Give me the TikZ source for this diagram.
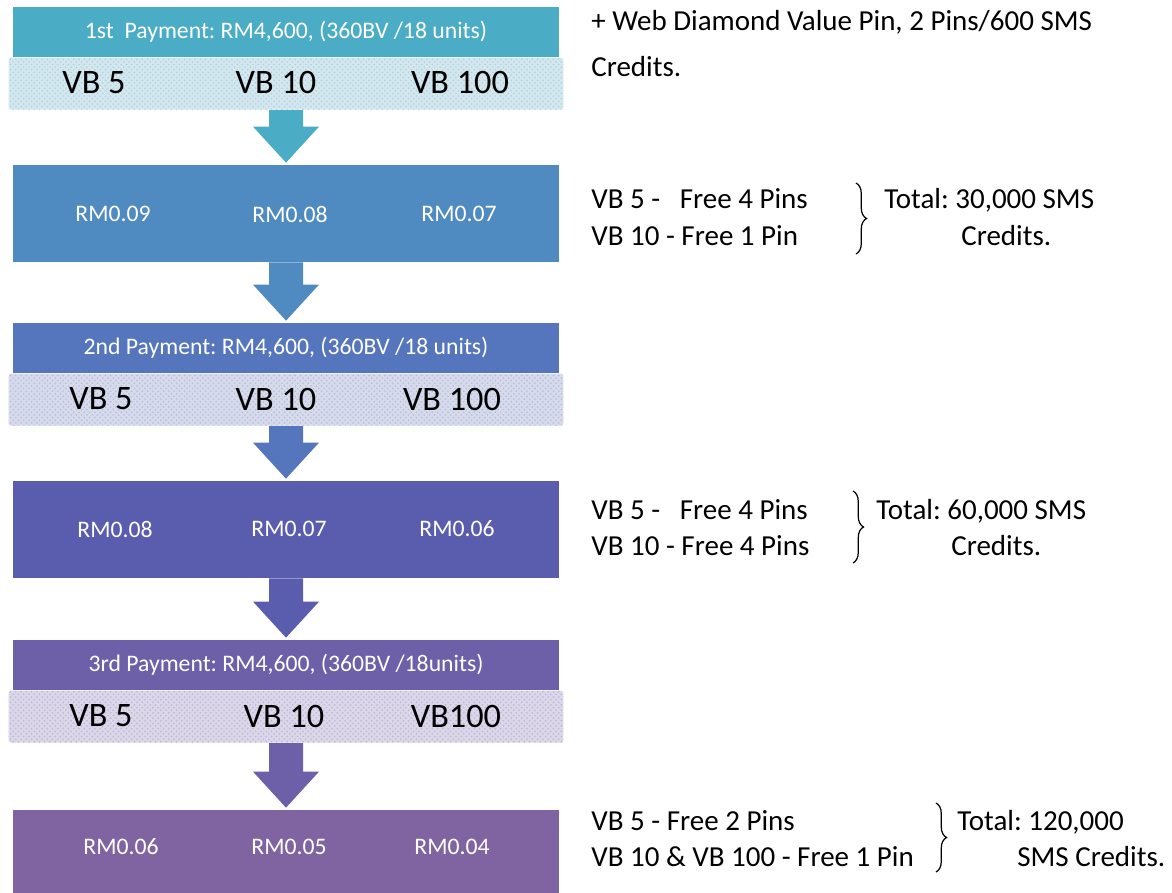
\documentclass[tikz,border=0pt]{standalone}
\usepackage{fontspec}
\setmainfont{Carlito}
\usetikzlibrary{positioning,calc,patterns,decorations.pathreplacing}

\definecolor{tealbox}{HTML}{4BACC6}
\definecolor{bluebox}{HTML}{4F8BC0}
\definecolor{cobaltbox}{HTML}{5575BC}
\definecolor{indigobox}{HTML}{5A5DAE}
\definecolor{violetbox}{HTML}{6D5FA8}
\definecolor{purplebox}{HTML}{8064A2}
\definecolor{tealband}{HTML}{D4E7EE}
\definecolor{tealdots}{HTML}{A8D2DF}
\definecolor{blueband}{HTML}{D6DAEB}
\definecolor{bluedots}{HTML}{B2BCDD}
\definecolor{violetband}{HTML}{DBD6E8}
\definecolor{violetdots}{HTML}{BDB4D8}

% block arrow from the bottom of one box to the top of the next
\newcommand{\blockarrow}[3]{%
  \fill[#3] ($(#1.south)+(-17,0)$) -- ($(#1.south)+(17,0)$) -- ($(#2.north)+(17,-38)$)
    -- ($(#2.north)+(33,-38)$) -- ($(#2.north)+(0,-2)$) -- ($(#2.north)+(-33,-38)$)
    -- ($(#2.north)+(-17,-38)$) -- cycle;}

\begin{document}
\frenchspacing
\begin{tikzpicture}[x=0.02cm,y=-0.02cm,
    paybox/.style={fill=#1,minimum width=10.92cm,minimum height=1cm,inner sep=0pt,
                   text=white,font=\fontsize{13.5}{16}\selectfont},
    bandbox/.style 2 args={fill=#1,postaction={pattern=crosshatch dots,pattern color=#2},
                   rounded corners=1.5pt,minimum width=11.1cm,minimum height=1.04cm,inner sep=0pt},
    ratebox/.style={fill=#1,minimum width=10.92cm,minimum height=1.94cm,inner sep=0pt},
    vblabel/.style={inner sep=0pt,font=\fontsize{19.5}{23}\selectfont},
    ratelabel/.style={inner sep=0pt,text=white,font=\fontsize{13.5}{16}\selectfont},
    note/.style={anchor=base west,inner sep=0pt,font=\fontsize{16.5}{20}\selectfont},
    bracket/.style={line width=0.7pt,decorate,decoration={brace,amplitude=6pt}}]

\useasboundingbox (0,0) rectangle (1172,892);

% first payment
\node[paybox=tealbox] (pay1) at (286,32) {1st\ \ Payment: RM4,600, (360BV /18 units)};
\node[bandbox={tealband}{tealdots},below=0pt of pay1] (band1) {};
\node[vblabel] (vb1a) at (94,83) {VB 5};
\node[vblabel] (vb1b) at (276,83) {VB 10};
\node[vblabel] (vb1c) at (460,83) {VB 100};

\node[ratebox=bluebox] (rate1) at (286,213.5) {};
\node[ratelabel] (r1a) at (113,214) {RM0.09};
\node[ratelabel] (r1b) at (290,214) {RM0.08};
\node[ratelabel] (r1c) at (459,214) {RM0.07};

% second payment
\node[paybox=cobaltbox] (pay2) at (286,348) {2nd Payment: RM4,600, (360BV /18 units)};
\node[bandbox={blueband}{bluedots},below=0pt of pay2] (band2) {};
\node[vblabel] (vb2a) at (101,399) {VB 5};
\node[vblabel] (vb2b) at (276,399) {VB 10};
\node[vblabel] (vb2c) at (452,399) {VB 100};

\node[ratebox=indigobox] (rate2) at (286,529.5) {};
\node[ratelabel] (r2a) at (115,529) {RM0.08};
\node[ratelabel] (r2b) at (289,529) {RM0.07};
\node[ratelabel] (r2c) at (457,529) {RM0.06};

% third payment
\node[paybox=violetbox] (pay3) at (286,665) {3rd Payment: RM4,600, (360BV /18units)};
\node[bandbox={violetband}{violetdots},below=0pt of pay3] (band3) {};
\node[vblabel] (vb3a) at (101,716) {VB 5};
\node[vblabel] (vb3b) at (284,716) {VB 10};
\node[vblabel] (vb3c) at (456,716) {VB100};

\node[ratebox=purplebox] (rate3) at (286,858.5) {};
\node[ratelabel] (r3a) at (121,847) {RM0.06};
\node[ratelabel] (r3b) at (289,847) {RM0.05};
\node[ratelabel] (r3c) at (452,847) {RM0.04};

% arrows
\blockarrow{band1}{rate1}{tealbox}
\blockarrow{rate1}{pay2}{bluebox}
\blockarrow{band2}{rate2}{cobaltbox}
\blockarrow{rate2}{pay3}{indigobox}
\blockarrow{band3}{rate3}{violetbox}

% notes on the right
\node[note] (web1) at (591,31) {+ Web Diamond Value Pin, 2 Pins/600 SMS};
\node[note] (web2) at (591,76) {Credits.};

\node[note] (g1a) at (591,208) {VB 5 -\ \ \ Free 4 Pins};
\node[note] (g1b) at (591,245) {VB 10 - Free 1 Pin};
\coordinate (br1top) at (856,183);
\coordinate (br1bot) at (856,254);
\draw[bracket] (br1top) -- (br1bot);
\node[note] (t1a) at (884,208) {Total: 30,000 SMS};
\node[note] (t1b) at (961,245) {Credits.};

\node[note] (g2a) at (591,519) {VB 5 -\ \ \ Free 4 Pins};
\node[note] (g2b) at (591,555) {VB 10 - Free 4 Pins};
\coordinate (br2top) at (853,491);
\coordinate (br2bot) at (853,563);
\draw[bracket] (br2top) -- (br2bot);
\node[note] (t2a) at (876,519) {Total: 60,000 SMS};
\node[note] (t2b) at (951,555) {Credits.};

\node[note] (g3a) at (591,830) {VB 5 - Free 2 Pins};
\node[note] (g3b) at (591,866) {VB 10 \& VB 100 - Free 1 Pin};
\coordinate (br3top) at (936,803);
\coordinate (br3bot) at (936,872);
\draw[bracket] (br3top) -- (br3bot);
\node[note] (t3a) at (957,830) {Total: 120,000};
\node[note] (t3b) at (1017,866) {SMS Credits.};
\end{tikzpicture}
\end{document}
